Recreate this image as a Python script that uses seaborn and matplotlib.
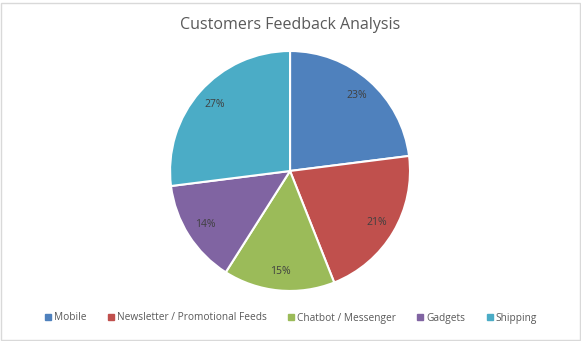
import matplotlib
matplotlib.use("Agg")
import matplotlib.pyplot as plt
import seaborn as sns
from matplotlib.lines import Line2D
from matplotlib.patches import Rectangle

categories = ["Mobile", "Newsletter / Promotional Feeds", "Chatbot / Messenger", "Gadgets", "Shipping"]
values = [23, 21, 15, 14, 27]
colors = ["#4F81BD", "#C0504D", "#9BBB59", "#8064A2", "#4BACC6"]

sns.set_theme(style="white")
plt.rcParams["font.family"] = ["Open Sans", "DejaVu Sans"]

fig = plt.figure(figsize=(5.81, 3.41), dpi=100)
fig.patch.set_facecolor("white")
ax = fig.add_axes([0.2927, 0.1466, 0.413, 0.704])
pal = sns.color_palette(colors)
wedges, texts, autotexts = ax.pie(
    values, colors=pal, startangle=90, counterclock=False,
    autopct="%1.0f%%", pctdistance=0.84,
    wedgeprops=dict(edgecolor="white", linewidth=1.5),
    textprops=dict(color="#404040", fontsize=7.5),
)
ax.set_aspect("equal")
ax.set_xlim(-1, 1)
ax.set_ylim(-1, 1)

fig.text(0.5, 1 - 25 / 341, "Customers Feedback Analysis", ha="center", va="center",
         fontsize=11.5, color="#595959")

handles = [Line2D([0], [0], marker="s", linestyle="", markersize=4,
                  markerfacecolor=c, markeredgecolor=c) for c in colors]
leg = fig.legend(handles, categories, loc="center", bbox_to_anchor=(0.5, 1 - 318 / 341),
                 ncol=5, frameon=False, fontsize=7.3, handletextpad=0.2, columnspacing=2.0,
                 handlelength=0.8)
for t in leg.get_texts():
    t.set_color("#595959")

fig.add_artist(Rectangle((0.5 / 581, 1.5 / 341), 1 - 2 / 581, 1 - 4 / 341, transform=fig.transFigure,
                         fill=False, edgecolor="#D9D9D9", linewidth=1))

fig.savefig("out.png", dpi=100, facecolor="white")
